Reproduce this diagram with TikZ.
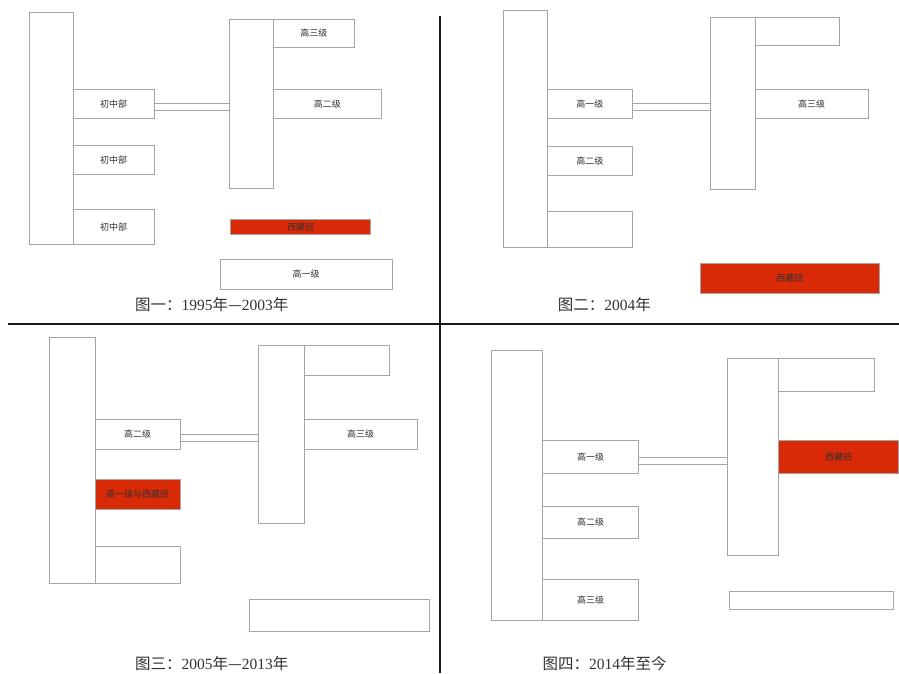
\documentclass[tikz,border=0pt]{standalone}
\usepackage{fontspec}
\setmainfont{Liberation Serif}
\newfontfamily\cjk{Noto Sans CJK SC}
\usetikzlibrary{fit}
\definecolor{boxgray}{RGB}{165,165,165}
\definecolor{redfill}{RGB}{217,42,8}
\definecolor{txt}{RGB}{50,50,50}
\tikzset{
  box/.style={draw=boxgray,line width=0.8pt,inner sep=0pt,outer sep=0pt,fill=white},
  redbox/.style={box,fill=redfill},
  boxtext/.style={text=txt,inner sep=0pt,font=\cjk\fontsize{9}{10}\selectfont},
  link/.style={draw=boxgray,line width=0.8pt},
  divider/.style={draw=black!90,line width=2.2pt},
  caption/.style={text=txt,font=\fontsize{15.5}{17}\selectfont,inner sep=0pt}
}
\newcommand\bx[7]{\node[#6,fit={(#2,#3) (#4,#5)}] (#1) {};
  \node[boxtext] (#1t) at (#1.center) {#7};}
\newcommand\connect[2]{%
  \draw[link] (#1.east) -- (#1.east -| #2.west);
  \draw[link] ([yshift=-7pt]#1.east) -- ([yshift=-7pt]#1.east -| #2.west);}
\begin{document}
\begin{tikzpicture}[x=1pt,y=-1pt]
\useasboundingbox (0,0) rectangle (899,673);
% ---------- Panel 1 ----------
\bx{pA}{29.3}{12.3}{73.3}{244.3}{box}{}
\bx{pAa}{73.3}{89.3}{154}{118}{box}{初中部}
\bx{pAb}{73.3}{145.7}{154}{174}{box}{初中部}
\bx{pAc}{73.3}{209}{154}{244.3}{box}{初中部}
\bx{pB}{229.3}{19.3}{273.3}{188.3}{box}{}
\bx{pBa}{273.3}{19.3}{354.3}{47.7}{box}{高三级}
\bx{pBb}{273.3}{89.3}{381.3}{118}{box}{高二级}
\bx{pR}{230.7}{219}{370.3}{234.3}{redbox}{西藏班}
\bx{pC}{220}{259.3}{392.3}{289.3}{box}{高一级}
\connect{pAa}{pB}
\node[caption] (cap1) at (211.7,305) {{\cjk 图一：}1995{\cjk 年—}2003{\cjk 年}};
% ---------- Panel 2 ----------
\bx{qA}{503}{10}{547.3}{247.3}{box}{}
\bx{qAa}{547.3}{89.3}{632.3}{118}{box}{高一级}
\bx{qAb}{547.3}{146.3}{632.3}{175.3}{box}{高二级}
\bx{qAc}{547.3}{211.3}{632.3}{247.3}{box}{}
\bx{qB}{710.3}{17}{755.3}{189.7}{box}{}
\bx{qBa}{755.3}{17}{839.7}{45.7}{box}{}
\bx{qBb}{755.3}{89.3}{868}{118}{box}{高三级}
\bx{qR}{700.3}{263}{879.3}{293.7}{redbox}{西藏班}
\connect{qAa}{qB}
\node[caption] (cap2) at (604.3,305) {{\cjk 图二：}2004{\cjk 年}};
% ---------- Panel 3 ----------
\bx{rA}{49.3}{337.7}{95.3}{583.3}{box}{}
\bx{rAa}{95.3}{419.3}{180}{449.3}{box}{高二级}
\bx{rAb}{95.3}{479.3}{180}{509}{redbox}{高一级与西藏班}
\bx{rAc}{95.3}{546}{180}{583.3}{box}{}
\bx{rB}{258.7}{345.3}{304}{523.3}{box}{}
\bx{rBa}{304}{345.3}{389.3}{375}{box}{}
\bx{rBb}{304}{419.3}{417.3}{449.3}{box}{高三级}
\bx{rC}{249}{599.3}{429.3}{631.3}{box}{}
\connect{rAa}{rB}
\node[caption] (cap3) at (211.7,663.3) {{\cjk 图三：}2005{\cjk 年—}2013{\cjk 年}};
% ---------- Panel 4 ----------
\bx{sA}{491.7}{350.7}{542.7}{620.7}{box}{}
\bx{sAa}{542.7}{440.7}{638.7}{473.3}{box}{高一级}
\bx{sAb}{542.7}{506}{638.7}{538.7}{box}{高二级}
\bx{sAc}{542.7}{579.3}{638.7}{620.7}{box}{高三级}
\bx{sB}{727.3}{358.7}{778.7}{555.3}{box}{}
\bx{sBa}{778.7}{358.7}{874.3}{391.3}{box}{}
\bx{sR}{778.7}{440.7}{898.6}{473.3}{redbox}{西藏班}
\bx{sC}{729.3}{591}{893.3}{609.3}{box}{}
\connect{sAa}{sB}
\node[caption] (cap4) at (604.7,663.3) {{\cjk 图四：}2014{\cjk 年至今}};
% ---------- dividers ----------
\coordinate (vt) at (439.7,16);
\coordinate (vb) at (439.7,673);
\coordinate (hl) at (8,324);
\coordinate (hr) at (899,324);
\draw[divider] (vt) -- (vb);
\draw[divider] (hl) -- (hr);
\end{tikzpicture}
\end{document}
